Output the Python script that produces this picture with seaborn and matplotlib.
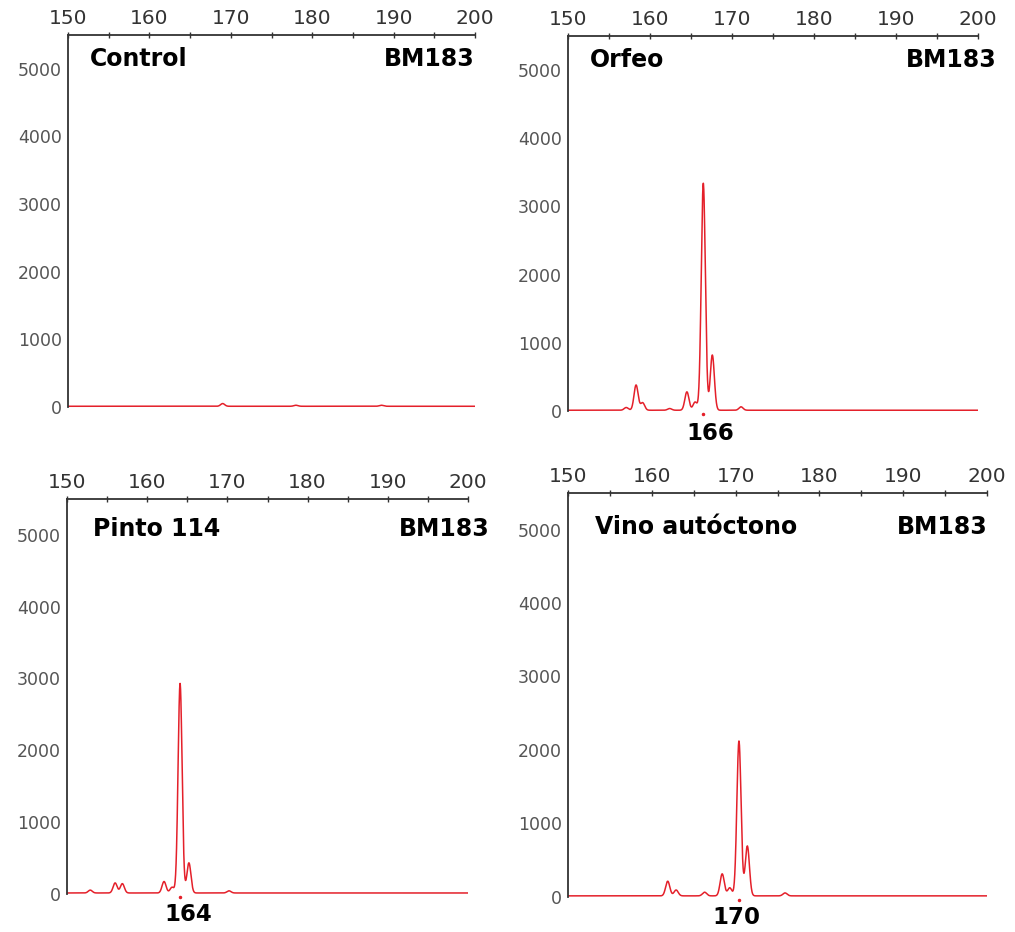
import numpy as np
import pandas as pd
import seaborn as sns
import matplotlib.pyplot as plt
from matplotlib.ticker import MultipleLocator

# Peaks (size in bp, height in RFU)
control_pos = [169.0, 178.0, 188.5]
control_height = [40, 15, 15]

orfeo_pos = [157.1, 158.3, 159.1, 162.4, 164.5, 165.5, 166.5, 167.6, 171.1]
orfeo_height = [40, 370, 110, 25, 270, 120, 3330, 810, 50]

pinto_pos = [152.9, 156.0, 156.9, 162.1, 163.1, 164.1, 165.2, 170.2]
pinto_height = [40, 140, 130, 160, 80, 2920, 420, 30]

vino_pos = [161.9, 162.9, 166.3, 168.4, 169.3, 170.4, 171.4, 175.9]
vino_height = [200, 80, 50, 300, 110, 2110, 680, 40]

samples = ['Control', 'Orfeo', 'Pinto 114', 'Vino autóctono']
marker_name = 'BM183'
alleles = [None, '166', '164', '170']
x_ticks = [150, 160, 170, 180, 190, 200]

peaks = {
    'Control': (control_pos, control_height),
    'Orfeo': (orfeo_pos, orfeo_height),
    'Pinto 114': (pinto_pos, pinto_height),
    'Vino autóctono': (vino_pos, vino_height),
}


def trace(pos, height, baseline=10, width=0.25):
    # rebuild a smooth trace from the peak list
    x = np.linspace(150, 200, 2501)
    y = np.full_like(x, baseline, dtype=float)
    for p, h in zip(pos, height):
        y += h * np.exp(-0.5 * ((x - p) / width) ** 2)
    return pd.DataFrame({'size': x, 'rfu': y})


sns.set_style('white')
plt.rcParams['font.family'] = ['DejaVu Sans']

fig = plt.figure(figsize=(10.15, 9.32), dpi=100)
W, H = 1015, 932
# panel frames in pixels: left, top, right, bottom
frames = [(68, 35, 475, 411), (568, 36, 978, 415),
          (67, 499, 468, 898), (568, 493, 987, 901)]
# where the sample / marker names and allele calls sit (axes fraction)
name_x = [0.054, 0.054, 0.065, 0.065]
name_y = [0.935, 0.937, 0.925, 0.917]
bm_x = [1.0, 1.045, 1.055, 1.002]
allele_x = [None, 0.346, 0.302, 0.403]
allele_y = [None, -0.048, -0.042, -0.040]

for i, name in enumerate(samples):
    l, t, r, b = frames[i]
    ax = fig.add_axes([l / W, 1 - b / H, (r - l) / W, (b - t) / H])
    df = trace(*peaks[name])
    sns.lineplot(data=df, x='size', y='rfu', ax=ax, color='#e4202a', linewidth=1.1)

    ax.set_xlim(150, 200)
    ax.set_ylim(-60, 5500)
    ax.set_xlabel('')
    ax.set_ylabel('')
    ax.set_xticks(x_ticks)
    ax.xaxis.set_minor_locator(MultipleLocator(5))
    ax.yaxis.set_major_locator(MultipleLocator(1000))
    ax.yaxis.set_minor_locator(MultipleLocator(500))
    ax.xaxis.tick_top()

    for s in ['right', 'bottom']:
        ax.spines[s].set_visible(False)
    for s in ['top', 'left']:
        ax.spines[s].set_color('#333333')
        ax.spines[s].set_linewidth(1.3)
    ax.spines['left'].set_bounds(0, 5500)

    ax.tick_params(axis='x', which='both', direction='inout', length=5, width=1,
                   color='#333333', pad=2.5, labelsize=14.5, labelcolor='#333333',
                   top=True, bottom=False)
    ax.tick_params(axis='y', which='both', direction='inout', length=5, width=1,
                   color='#333333', pad=2, labelsize=12.5, labelcolor='#555555')

    ax.text(name_x[i], name_y[i], name, transform=ax.transAxes, fontsize=17,
            fontweight='bold', va='center', ha='left', color='black')
    ax.text(bm_x[i], name_y[i], marker_name, transform=ax.transAxes, fontsize=17,
            fontweight='bold', va='center', ha='right', color='black')

    if alleles[i] is not None:
        main = int(np.argmax(peaks[name][1]))
        ax.plot([peaks[name][0][main]], [-45], marker='.', markersize=3,
                color='#e4202a', clip_on=False)
        ax.text(allele_x[i], allele_y[i], alleles[i], transform=ax.transAxes,
                fontsize=16.5, fontweight='bold', ha='center', va='center',
                color='black')

fig.savefig('out.png', dpi=100)
